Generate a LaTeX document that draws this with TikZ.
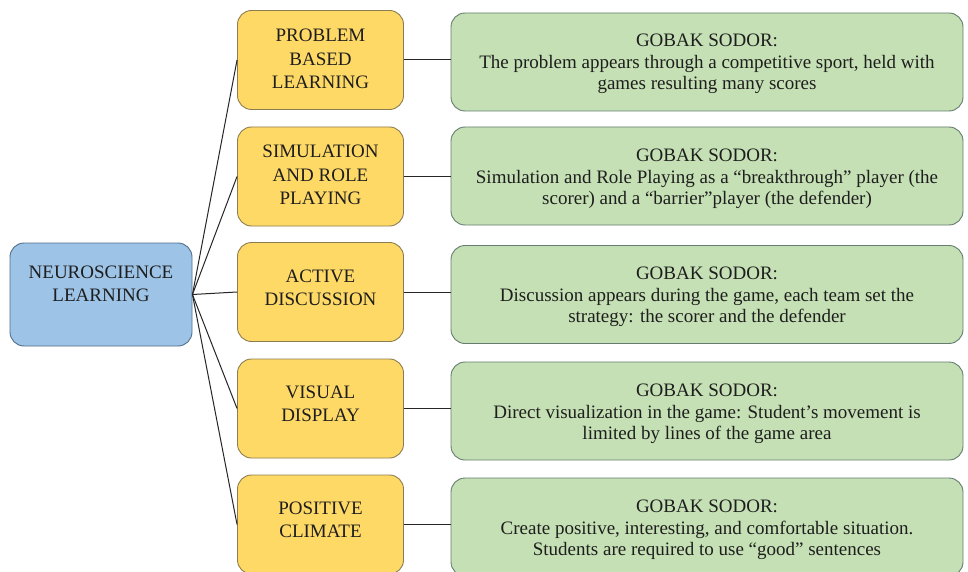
\documentclass[tikz,border=0pt]{standalone}
\usepackage{fontspec}
\setmainfont{Liberation Serif}
\definecolor{bluefill}{RGB}{157,195,230}
\definecolor{blueline}{RGB}{80,110,140}
\definecolor{yelfill}{RGB}{255,217,102}
\definecolor{yelline}{RGB}{140,125,80}
\definecolor{grnfill}{RGB}{197,224,180}
\definecolor{grnline}{RGB}{100,125,110}
\definecolor{txt}{RGB}{30,30,30}
\begin{document}
\begin{tikzpicture}[x=1pt,y=-1pt,
  box/.style={rounded corners=14pt, line width=0.9pt, inner sep=0pt},
  lbl/.style={align=center, text=txt, font=\fontsize{19}{23.5}\selectfont, inner sep=0pt},
  glbl/.style={align=center, text=txt, font=\fontsize{19}{21.5}\selectfont, inner sep=0pt},
  bluebox/.style={box, fill=bluefill, draw=blueline, minimum width=182pt, minimum height=103pt},
  yelbox/.style={box, fill=yelfill, draw=yelline, minimum width=166pt, minimum height=99pt},
  grnbox/.style={box, fill=grnfill, draw=grnline, minimum width=512pt, minimum height=98pt},
  conn/.style={draw=black!85, line width=1pt}]
\useasboundingbox (0,0) rectangle (968,572);
\fill[white] (0,0) rectangle (968,572);
\node[bluebox] (n) at (101,294.5) {};
\node[lbl] (nt) at (101,284) {NEUROSCIENCE\\LEARNING};
\node[yelbox] (y1) at (320.5,60) {};
\node[lbl] (y1t) at (320.5,59) {PROBLEM\\BASED\\LEARNING};
\node[yelbox] (y2) at (320.5,176.5) {};
\node[lbl] (y2t) at (320.5,175) {SIMULATION\\AND ROLE\\PLAYING};
\node[yelbox] (y3) at (320.5,292) {};
\node[lbl] (y3t) at (320.5,288) {ACTIVE\\DISCUSSION};
\node[yelbox] (y4) at (320.5,408.5) {};
\node[lbl] (y4t) at (320.5,404) {VISUAL\\DISPLAY};
\node[yelbox] (y5) at (320.5,524.5) {};
\node[lbl] (y5t) at (320.5,520) {POSITIVE\\CLIMATE};
\node[grnbox] (g1) at (707,62) {};
\node[glbl] (g1t) at (707,64) {GOBAK SODOR:\\The problem appears through a competitive sport, held with\\games resulting many scores};
\node[grnbox] (g2) at (707,176) {};
\node[glbl] (g2t) at (707,179) {GOBAK SODOR:\\Simulation and Role Playing as a “breakthrough” player (the\\scorer) and a “barrier”player (the defender)};
\node[grnbox] (g3) at (707,294.5) {};
\node[glbl] (g3t) at (707,297) {GOBAK SODOR:\\Discussion appears during the game, each team set the\\strategy: the scorer and the defender};
\node[grnbox] (g4) at (707,411) {};
\node[glbl] (g4t) at (707,414) {GOBAK SODOR:\\Direct visualization in the game: Student’s movement is\\limited by lines of the game area};
\node[grnbox] (g5) at (707,527) {};
\node[glbl] (g5t) at (707,530) {GOBAK SODOR:\\Create positive, interesting, and comfortable situation.\\Students are required to use “good” sentences};
\foreach \i in {1,...,5}{
  \draw[conn] (n.east) -- (y\i.west);
  \draw[conn] (y\i.east) -- (g\i.west |- y\i.east);
}
\end{tikzpicture}
\end{document}
